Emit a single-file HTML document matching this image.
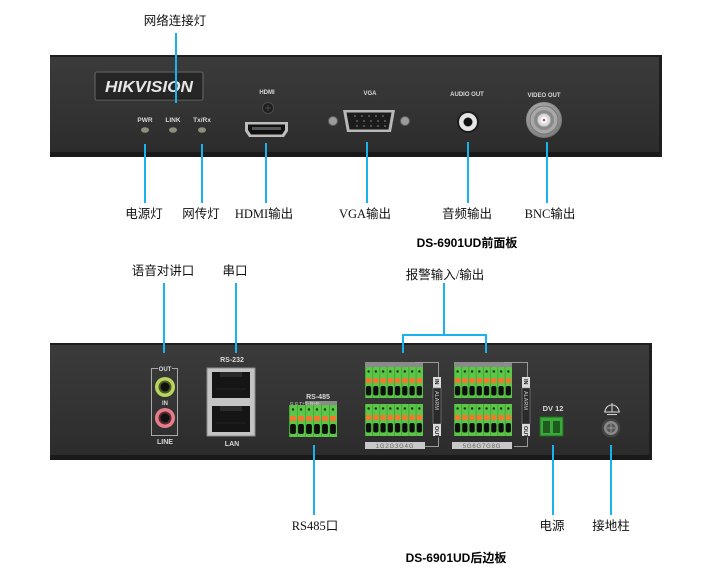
<!DOCTYPE html>
<html><head><meta charset="utf-8"><style>
html,body{margin:0;padding:0;background:#fff;}
svg{display:block;}
.lb{font-family:"Liberation Serif","Noto Sans CJK SC",sans-serif;font-size:12.5px;fill:#111;}
.tt{font-family:"Liberation Sans","Noto Sans CJK SC",sans-serif;font-size:12px;font-weight:bold;fill:#000;}
.sm{font-family:"Liberation Sans",sans-serif;font-weight:bold;fill:#d8d8d8;}
</style></head><body>
<svg width="705" height="581" viewBox="0 0 705 581">
<defs>
 <linearGradient id="pg" x1="0" y1="0" x2="0" y2="1">
  <stop offset="0" stop-color="#3b3b3b"/><stop offset="0.5" stop-color="#343434"/><stop offset="1" stop-color="#2b2b2b"/>
 </linearGradient>
 <radialGradient id="bnc" cx="0.45" cy="0.4" r="0.6">
  <stop offset="0" stop-color="#d0d0d0"/><stop offset="1" stop-color="#7a7a7a"/>
 </radialGradient>
 <pattern id="alm" width="7.25" height="32" patternUnits="userSpaceOnUse">
  <rect width="7.25" height="32" fill="#5cc648"/>
  <rect width="0.7" height="32" fill="#3f9a30"/>
  <circle cx="3.6" cy="4.5" r="1.2" fill="#143010"/>
  <rect x="0.9" y="11" width="5.4" height="5" fill="#f4792e"/>
  <rect x="1" y="19" width="5.2" height="9.5" rx="2" fill="#0e0e0e"/>
 </pattern>
 <pattern id="t6" width="8" height="32" patternUnits="userSpaceOnUse">
  <rect width="8" height="32" fill="#5cc648"/>
  <rect width="0.7" height="32" fill="#3f9a30"/>
  <circle cx="4" cy="4.5" r="1.2" fill="#143010"/>
  <rect x="1" y="11" width="6" height="5" fill="#f4792e"/>
  <rect x="1.1" y="19" width="5.8" height="10" rx="2" fill="#0e0e0e"/>
 </pattern>
</defs>

<!-- ========== FRONT PANEL ========== -->
<rect x="50" y="55" width="612" height="102" rx="2" fill="url(#pg)"/>
<rect x="50" y="55" width="612" height="2" fill="#1e1e1e"/>
<rect x="50" y="152" width="612" height="5" fill="#1a1a1a"/>
<rect x="659" y="55" width="3" height="102" fill="#1e1e1e"/>

<rect x="95" y="72" width="108" height="28" rx="2" fill="#262626" stroke="#5c5c5c" stroke-width="1.3"/>
<line x1="96" y1="99" x2="202" y2="99" stroke="#1a1a1a" stroke-width="1"/>
<text x="149" y="92" text-anchor="middle" font-family="Liberation Sans" font-weight="bold" font-style="italic" font-size="16" fill="#e6e6e6" textLength="88" lengthAdjust="spacingAndGlyphs">HIKVISION</text>

<text class="sm" x="145" y="122" font-size="6.5" text-anchor="middle">PWR</text>
<text class="sm" x="173" y="122" font-size="6.5" text-anchor="middle">LINK</text>
<text class="sm" x="202" y="122" font-size="6.5" text-anchor="middle">Tx/Rx</text>
<ellipse cx="145" cy="130" rx="4" ry="2.8" fill="#8d8d7e"/>
<ellipse cx="173" cy="130" rx="4" ry="2.8" fill="#8d8d7e"/>
<ellipse cx="202" cy="130" rx="4" ry="2.8" fill="#8d8d7e"/>

<!-- HDMI -->
<text class="sm" x="267" y="94" font-size="6" text-anchor="middle">HDMI</text>
<circle cx="268" cy="108" r="5.5" fill="#1e1e1e" stroke="#4d4d4d"/>
<g stroke="#555" stroke-width="0.8"><line x1="265" y1="108" x2="271" y2="108"/><line x1="268" y1="105" x2="268" y2="111"/></g>
<path d="M245 122 H288 V131 L284 137 H249 L245 131 Z" fill="#bdbdbd"/>
<path d="M248 124.5 H285 V130 L282 134.5 H251 L248 130 Z" fill="#111"/>
<rect x="252" y="127" width="29" height="3" fill="#555"/>

<!-- VGA -->
<text class="sm" x="370" y="95" font-size="6" text-anchor="middle">VGA</text>
<circle cx="333" cy="121" r="4.5" fill="#9a9a9a" stroke="#5e5e5e"/>
<circle cx="405" cy="121" r="4.5" fill="#9a9a9a" stroke="#5e5e5e"/>
<path d="M343 110 H395 L391 132 H347 Z" fill="#b8b8b8"/>
<path d="M346.5 112.5 H391.5 L388.5 129.5 H349.5 Z" fill="#1c1c1c"/>
<g fill="#777">
 <circle cx="355" cy="116" r="0.9"/><circle cx="362" cy="116" r="0.9"/><circle cx="369" cy="116" r="0.9"/><circle cx="376" cy="116" r="0.9"/><circle cx="383" cy="116" r="0.9"/>
 <circle cx="357" cy="121" r="0.9"/><circle cx="364" cy="121" r="0.9"/><circle cx="371" cy="121" r="0.9"/><circle cx="378" cy="121" r="0.9"/><circle cx="385" cy="121" r="0.9"/>
 <circle cx="357" cy="126" r="0.9"/><circle cx="364" cy="126" r="0.9"/><circle cx="371" cy="126" r="0.9"/><circle cx="378" cy="126" r="0.9"/><circle cx="385" cy="126" r="0.9"/>
</g>

<!-- AUDIO OUT -->
<text class="sm" x="467" y="96" font-size="6" text-anchor="middle">AUDIO OUT</text>
<circle cx="468" cy="122" r="11" fill="#1c1c1c"/>
<circle cx="468" cy="122" r="9" fill="#e4e4e4"/>
<circle cx="468" cy="122" r="4.5" fill="#111"/>

<!-- VIDEO OUT -->
<text class="sm" x="544" y="97" font-size="6" text-anchor="middle">VIDEO OUT</text>
<circle cx="544" cy="120" r="18" fill="url(#bnc)"/>
<circle cx="544" cy="120" r="14" fill="#a8a8a8" stroke="#777"/>
<circle cx="544" cy="120" r="10" fill="#8a8a8a"/>
<circle cx="544" cy="120" r="6.5" fill="#d8d8d8"/>
<circle cx="544" cy="120" r="3.5" fill="#fff"/>
<circle cx="544" cy="120" r="1.3" fill="#c44"/>

<!-- front connectors -->
<g stroke="#1ab2ec" stroke-width="2" fill="none">
 <line x1="176" y1="33" x2="176" y2="103"/>
 <line x1="145" y1="144" x2="145" y2="203"/>
 <line x1="202" y1="144" x2="202" y2="203"/>
 <line x1="266" y1="143" x2="266" y2="203"/>
 <line x1="367" y1="142" x2="367" y2="203"/>
 <line x1="468" y1="142" x2="468" y2="203"/>
 <line x1="547" y1="142" x2="547" y2="203"/>
</g>
<text class="lb" x="175" y="25" text-anchor="middle">网络连接灯</text>
<text class="lb" x="144" y="218" text-anchor="middle">电源灯</text>
<text class="lb" x="201" y="218" text-anchor="middle">网传灯</text>
<text class="lb" x="264" y="218" text-anchor="middle">HDMI输出</text>
<text class="lb" x="365" y="218" text-anchor="middle">VGA输出</text>
<text class="lb" x="467" y="218" text-anchor="middle">音频输出</text>
<text class="lb" x="550" y="218" text-anchor="middle">BNC输出</text>
<text class="tt" x="467" y="247" text-anchor="middle">DS-6901UD前面板</text>

<!-- ========== BACK PANEL ========== -->
<rect x="50" y="343" width="602" height="117" rx="2" fill="url(#pg)"/>
<rect x="50" y="343" width="602" height="2" fill="#1e1e1e"/>
<rect x="50" y="455" width="602" height="5" fill="#1a1a1a"/>
<rect x="649" y="343" width="3" height="117" fill="#1e1e1e"/>

<!-- audio -->
<path d="M158 368.5 H151.5 V435.5 H177.5 V368.5 H172" stroke="#a8a8a8" fill="none"/>
<text class="sm" x="165" y="371" font-size="6" text-anchor="middle">OUT</text>
<circle cx="165" cy="387" r="10" fill="#b8d65c"/>
<circle cx="165" cy="387" r="6.5" fill="#4a5a2a"/>
<circle cx="165" cy="387" r="4.5" fill="#111"/>
<text class="sm" x="165" y="405" font-size="6" text-anchor="middle">IN</text>
<circle cx="165" cy="418" r="10" fill="#e67d8a"/>
<circle cx="165" cy="418" r="6.5" fill="#5a2a30"/>
<circle cx="165" cy="418" r="4.5" fill="#111"/>
<text class="sm" x="165" y="444" font-size="7" text-anchor="middle">LINE</text>

<!-- RJ45 -->
<text class="sm" x="232" y="362" font-size="7" text-anchor="middle">RS-232</text>
<rect x="207" y="368" width="48" height="68" fill="#c4c4c4" stroke="#8a8a8a"/>
<rect x="212" y="372" width="38" height="26" fill="#151515"/>
<rect x="220" y="372" width="22" height="5" fill="#2a2a2a"/>
<rect x="212" y="406" width="38" height="26" fill="#151515"/>
<rect x="220" y="406" width="22" height="5" fill="#2a2a2a"/>
<g stroke="#333" stroke-width="0.6"><line x1="216" y1="389" x2="246" y2="389"/><line x1="216" y1="423" x2="246" y2="423"/></g>
<text class="sm" x="232" y="446" font-size="7" text-anchor="middle">LAN</text>

<!-- RS-485 -->
<text class="sm" x="318" y="399" font-size="7" text-anchor="middle">RS-485</text>
<rect x="305" y="401" width="32" height="4.5" fill="#8a8a8a"/>
<text x="290" y="405" font-family="Liberation Sans" font-size="4.5" fill="#ddd">G G T+T- R+R-</text>
<g transform="translate(289,405)"><rect width="48" height="32" fill="url(#t6)"/></g>

<!-- alarm block 1 -->
<g>
 <rect x="365" y="362" width="58" height="5" fill="#8a8a8a"/>
 <g transform="translate(365,367)"><rect width="58" height="31" fill="url(#alm)"/></g>
 <g transform="translate(365,404)"><rect width="58" height="32" fill="url(#alm)"/></g>
 <path d="M415 362.5 H438.5 V377 M438.5 436 V446.5 H425" stroke="#9a9a9a" fill="none"/>
 <rect x="433" y="377" width="8" height="11" fill="#dcdcdc"/>
 <rect x="433" y="388" width="8" height="36" fill="#2a2a2a" stroke="#888" stroke-width="0.6"/>
 <rect x="433" y="424" width="8" height="12" fill="#dcdcdc"/>
 <text transform="translate(435,379) rotate(90)" font-family="Liberation Sans" font-weight="bold" font-size="5.5" fill="#222">IN</text>
 <text transform="translate(435,391) rotate(90)" font-family="Liberation Sans" font-size="5.5" fill="#ccc">ALARM</text>
 <text transform="translate(435,426) rotate(90)" font-family="Liberation Sans" font-weight="bold" font-size="5.5" fill="#222">OUT</text>
 <rect x="365" y="442" width="60" height="7" fill="#c8c8c8"/>
 <text x="395" y="448" text-anchor="middle" font-family="Liberation Sans" font-size="6" fill="#666" letter-spacing="0.8">1G2G3G4G</text>
</g>
<!-- alarm block 2 -->
<g transform="translate(89,0)">
 <rect x="365" y="362" width="58" height="5" fill="#8a8a8a"/>
 <g transform="translate(365,367)"><rect width="58" height="31" fill="url(#alm)"/></g>
 <g transform="translate(365,404)"><rect width="58" height="32" fill="url(#alm)"/></g>
 <path d="M415 362.5 H438.5 V377 M438.5 436 V446.5 H425" stroke="#9a9a9a" fill="none"/>
 <rect x="433" y="377" width="8" height="11" fill="#dcdcdc"/>
 <rect x="433" y="388" width="8" height="36" fill="#2a2a2a" stroke="#888" stroke-width="0.6"/>
 <rect x="433" y="424" width="8" height="12" fill="#dcdcdc"/>
 <text transform="translate(435,379) rotate(90)" font-family="Liberation Sans" font-weight="bold" font-size="5.5" fill="#222">IN</text>
 <text transform="translate(435,391) rotate(90)" font-family="Liberation Sans" font-size="5.5" fill="#ccc">ALARM</text>
 <text transform="translate(435,426) rotate(90)" font-family="Liberation Sans" font-weight="bold" font-size="5.5" fill="#222">OUT</text>
 <rect x="363" y="442" width="60" height="7" fill="#c8c8c8"/>
 <text x="393" y="448" text-anchor="middle" font-family="Liberation Sans" font-size="6" fill="#666" letter-spacing="0.8">5G6G7G8G</text>
</g>

<!-- DV 12 -->
<text class="sm" x="553" y="411" font-size="7.5" text-anchor="middle">DV 12</text>
<rect x="540" y="417" width="23" height="19" fill="#3aa83a" stroke="#1f6a1f"/>
<rect x="543" y="421" width="7" height="12" fill="#1f5a1f"/>
<rect x="553" y="421" width="7" height="12" fill="#1f5a1f"/>

<!-- ground -->
<g stroke="#cfcfcf" stroke-width="1.1" fill="none">
 <path d="M605 412 A7 7 0 0 1 619 412"/>
 <line x1="604" y1="412" x2="620" y2="412"/>
 <line x1="612" y1="403" x2="612" y2="412"/>
 <line x1="607" y1="414.5" x2="617" y2="414.5"/>
</g>
<circle cx="611" cy="428" r="9.5" fill="#444"/>
<circle cx="611" cy="428" r="7" fill="#8a8a8a"/>
<circle cx="611" cy="428" r="4.5" fill="#555"/>
<g stroke="#aaa" stroke-width="0.8"><line x1="607" y1="428" x2="615" y2="428"/><line x1="611" y1="424" x2="611" y2="432"/></g>

<!-- back connectors -->
<g stroke="#1ab2ec" stroke-width="2" fill="none">
 <line x1="164" y1="283" x2="164" y2="353"/>
 <line x1="236" y1="283" x2="236" y2="353"/>
 <line x1="444" y1="283" x2="444" y2="335"/>
 <polyline points="403,353 403,335 486,335 486,353"/>
 <line x1="314" y1="445" x2="314" y2="515"/>
 <line x1="553" y1="445" x2="553" y2="515"/>
 <line x1="611" y1="445" x2="611" y2="515"/>
</g>
<text class="lb" x="163" y="275" text-anchor="middle">语音对讲口</text>
<text class="lb" x="235" y="275" text-anchor="middle">串口</text>
<text class="lb" x="445" y="279" text-anchor="middle">报警输入/输出</text>
<text class="lb" x="315" y="530" text-anchor="middle">RS485口</text>
<text class="lb" x="552" y="530" text-anchor="middle">电源</text>
<text class="lb" x="611" y="530" text-anchor="middle">接地柱</text>
<text class="tt" x="456" y="562" text-anchor="middle">DS-6901UD后边板</text>
</svg>
</body></html>
